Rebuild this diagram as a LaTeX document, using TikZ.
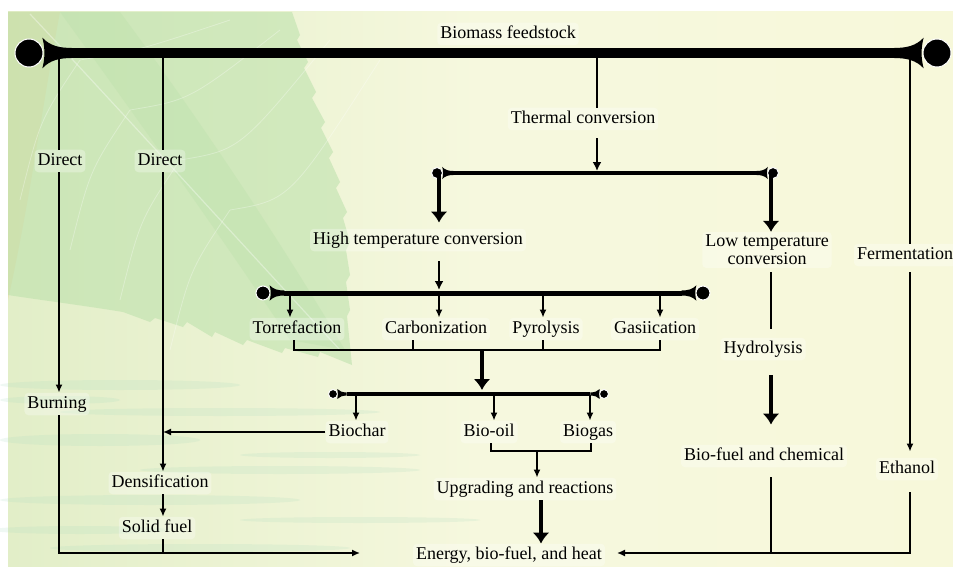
\documentclass[tikz,border=0pt]{standalone}
\usepackage{fontspec}
\setmainfont{Liberation Serif}
\usetikzlibrary{arrows.meta}
\definecolor{bgL}{RGB}{226,238,200}
\definecolor{bgM}{RGB}{246,248,222}
\definecolor{bgR}{RGB}{247,248,218}
\definecolor{leafG}{RGB}{186,224,170}
\definecolor{orangeT}{RGB}{236,214,160}
\definecolor{waterC}{RGB}{168,218,190}
\tikzset{
  lblbase/.style={font=\fontsize{18}{18}\selectfont, inner sep=3pt, fill=white, fill opacity=0.3, text opacity=1, rounded corners=4pt},
  lbl/.style={lblbase, text height=12.5pt, text depth=4pt},
  ln/.style={line width=1.5pt},
  arr/.style={line width=1.5pt, -{Latex[length=8pt,width=7pt]}},
  marr/.style={line width=2pt, -{Latex[length=9pt,width=9pt]}},
  tarr/.style={line width=4pt, -{Latex[length=11pt,width=17pt]}},
  pics/barend/.style={code={
    \fill[black, draw=white, line width=1pt] (0,0) circle (1);
    \fill[black] (0.95,-1.1) .. controls (1.5,-0.5) and (2.2,-0.36) .. (3.05,-0.36)
      -- (3.05,0.36) .. controls (2.2,0.36) and (1.5,0.5) .. (0.95,1.1)
      .. controls (1.15,0.4) and (1.15,-0.4) .. (0.95,-1.1) -- cycle;
  }}
}
\begin{document}
\begin{tikzpicture}[x=1pt,y=-1pt]
\useasboundingbox (0,0) rectangle (953,567);
% background
\fill[white] (0,0) rectangle (953,567);
\shade[left color=bgL, right color=bgR, middle color=bgM] (8,12) rectangle (953,567);
\fill[orangeT, opacity=0.45] (8,12) -- (60,12) .. controls (40,120) and (30,200) .. (8,300) -- cycle;
\fill[leafG, opacity=0.55] (8,12) -- (292,12) -- (300,35) -- (297,40) -- (308,62) -- (304,68) -- (316,92) -- (312,98)
  -- (325,122) -- (321,128) -- (333,152) -- (329,158) -- (340,182) -- (336,188) -- (347,212) -- (343,218)
  -- (350,242) -- (346,250) -- (350,275) -- (346,282) -- (350,310) -- (347,316) -- (352,365)
  -- (320,352) -- (318,357) -- (285,348) -- (282,353) -- (247,340) -- (243,345) -- (215,332) -- (212,337)
  -- (187,322) -- (183,327) -- (155,318) -- (150,322) -- (123,312) .. controls (80,305) and (40,300) .. (8,295) -- cycle;
\fill[leafG, opacity=0.35] (120,12) .. controls (200,120) and (280,240) .. (345,350) -- (290,340) .. controls (230,250) and (160,150) .. (60,12) -- cycle;
\draw[white, opacity=0.35, line width=1.2pt] (30,14) .. controls (120,110) and (220,220) .. (340,350);
\foreach \a/\b in {80/20, 130/30, 180/40, 230/60}{
  \draw[white, opacity=0.3, line width=0.8pt] (\a,{\a-20}) .. controls ({\a+60},{\a-30}) .. ({\a+150},\b);
  \draw[white, opacity=0.3, line width=0.8pt] (\a,{\a-20}) .. controls ({\a-40},{\a+40}) .. ({\a-60},{\a+120});
}
\foreach \cx/\cy/\rx/\ry in {120/385/120/5, 60/400/60/4, 220/412/160/4, 100/440/100/6, 280/470/140/4, 150/500/150/5, 330/455/90/3, 80/530/90/4, 360/520/120/3, 200/548/150/4}{
  \fill[waterC, opacity=0.18] (\cx,\cy) ellipse ({\rx} and {\ry});
}
% coordinates
\coordinate (b1) at (59,53);
\coordinate (b2) at (163,53);
\coordinate (b3) at (597,53);
\coordinate (b4) at (910,53);
\coordinate (m1) at (597,171);
\coordinate (s1) at (439,173);
\coordinate (s2) at (771,174);
\coordinate (m2) at (439,290);
\coordinate (c1) at (290,295);
\coordinate (c2) at (439,295);
\coordinate (c3) at (543,295);
\coordinate (c4) at (660,295);
\coordinate (k1) at (294,350);
\coordinate (k2) at (413,350);
\coordinate (k3) at (543,350);
\coordinate (k4) at (660,350);
\coordinate (k5) at (482,350);
\coordinate (f0) at (482,390);
\coordinate (g1) at (356,395);
\coordinate (g2) at (494,395);
\coordinate (g3) at (590,395);
\coordinate (h1) at (491,451);
\coordinate (h2) at (591,451);
\coordinate (h3) at (537,451);
\coordinate (h4) at (541,451);
\coordinate (eL) at (360,553);
\coordinate (eR) at (617,553);
% bars
\draw[line width=10pt] (71,53) -- (895,53);
\pic[scale=14] at (29,53) {barend};
\pic[xscale=-14,yscale=14] at (937,53) {barend};
\draw[line width=4pt] (454,173) -- (756,173);
\pic[scale=5.5] at (437,173) {barend};
\pic[xscale=-5.5,yscale=5.5] at (773,173) {barend};
\draw[line width=5pt] (284,293) -- (682,293);
\pic[scale=7] at (263,293) {barend};
\pic[xscale=-7,yscale=7] at (703,293) {barend};
\draw[line width=3.2pt] (347,394) -- (590,394);
\pic[scale=4.5] at (333,394) {barend};
\pic[xscale=-4.5,yscale=4.5] at (604,394) {barend};
% labels
\node[lbl] (bio) at (508,34) {Biomass feedstock};
\node[lbl] (therm) at (583,119) {Thermal conversion};
\node[lbl] (dir1) at (60,161) {Direct};
\node[lbl] (dir2) at (160,161) {Direct};
\node[lbl] (high) at (418,240) {High temperature conversion};
\node[lblbase, align=center] (low) at (767,250) {Low temperature\\conversion};
\node[lbl] (ferm) at (905,255) {Fermentation};
\node[lbl] (torr) at (297,329) {Torrefaction};
\node[lbl] (carb) at (436,329) {Carbonization};
\node[lbl] (pyr) at (546,329) {Pyrolysis};
\node[lbl] (gas) at (655,329) {Gasiication};
\node[lbl] (hyd) at (763,349) {Hydrolysis};
\node[lbl] (burn) at (57,404) {Burning};
\node[lbl] (biochar) at (357,432) {Biochar};
\node[lbl] (biooil) at (489,432) {Bio-oil};
\node[lbl] (biogas) at (588,432) {Biogas};
\node[lbl] (biofuel) at (764,456) {Bio-fuel and chemical};
\node[lbl] (eth) at (907,469) {Ethanol};
\node[lbl] (dens) at (160,483) {Densification};
\node[lbl] (upg) at (525,489) {Upgrading and reactions};
\node[lbl] (solid) at (157,528) {Solid fuel};
\node[lbl] (energy) at (509,555) {Energy, bio-fuel, and heat};
% connectors: left branches
\draw[ln] (b1) -- (dir1.north -| b1);
\draw[arr] (dir1.south -| b1) -- (burn.north -| b1);
\draw[arr] (burn.south -| b1) |- (eL);
\draw[ln] (b2) -- (dir2.north -| b2);
\draw[arr] (dir2.south -| b2) -- (dens.north -| b2);
\draw[arr] (dens.south -| b2) -- (solid.north -| b2);
\draw[ln] (solid.south -| b2) -- (b2 |- eL);
\draw[arr] (biochar.west) -- (biochar.west -| b2);
% thermal
\draw[ln] (b3) -- (therm.north -| b3);
\draw[marr, shorten <=8pt] (therm.south -| b3) -- (m1);
\draw[tarr, shorten >=6pt] (s1) -- (high.north -| s1);
\draw[marr, shorten <=10pt] (high.south -| s1) -- (m2);
\draw[arr] (c1) -- (torr.north -| c1);
\draw[arr] (c2) -- (carb.north -| c2);
\draw[arr] (c3) -- (pyr.north -| c3);
\draw[arr] (c4) -- (gas.north -| c4);
\draw[ln] (torr.south -| k1) -- (k1) -- (k4) -- (gas.south -| k4);
\draw[ln] (carb.south -| k2) -- (k2);
\draw[ln] (pyr.south -| k3) -- (k3);
\draw[tarr] (k5) -- (f0);
\draw[arr] (g1) -- (biochar.north -| g1);
\draw[arr] (g2) -- (biooil.north -| g2);
\draw[arr] (g3) -- (biogas.north -| g3);
\draw[ln] (biooil.south -| h1) -- (h1) -- (h2) -- (biogas.south -| h2);
\draw[arr] (h3) -- (upg.north -| h3);
\draw[tarr] (upg.south -| h4) -- (energy.north -| h4);
% low temperature
\draw[tarr] (s2) -- (low.north -| s2);
\draw[ln, shorten <=4pt, shorten >=9pt] (low.south -| s2) -- (hyd.north -| s2);
\draw[tarr, shorten <=15pt, shorten >=20pt] (hyd.south -| s2) -- (biofuel.north -| s2);
\draw[ln, shorten <=10pt] (biofuel.south -| s2) -- (s2 |- eR);
% fermentation
\draw[ln] (b4) -- (ferm.north -| b4);
\draw[arr, shorten <=6pt, shorten >=6pt] (ferm.south -| b4) -- (eth.north -| b4);
\draw[arr, shorten <=12pt] (eth.south -| b4) |- (eR);
\end{tikzpicture}
\end{document}
